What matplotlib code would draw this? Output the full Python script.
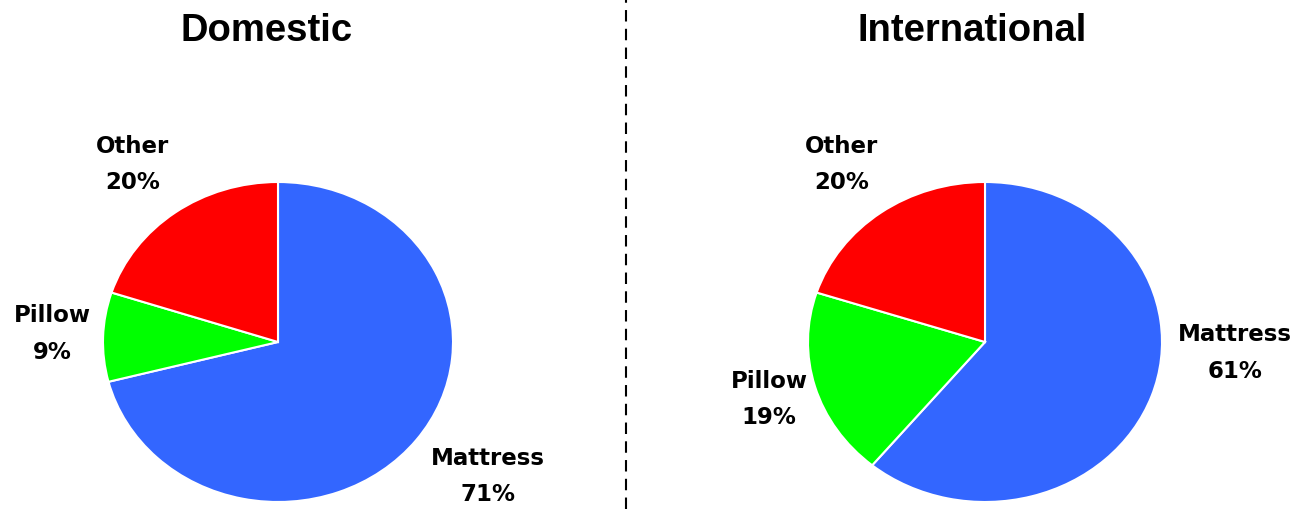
import matplotlib.pyplot as plt
from matplotlib.lines import Line2D

# data
titles = ['Domestic', 'International']
categories = ['Mattress', 'Pillow', 'Other']
domestic = [71, 9, 20]
international = [61, 19, 20]
colors = ['#3366FF', '#00FF00', '#FF0000']

# label positions in pie (data) units, per panel
label_pos = [
    [(1.20, -0.84), (-1.29, 0.05), (-0.83, 1.11)],
    [(1.41, -0.07), (-1.22, -0.36), (-0.81, 1.11)],
]

W, H = 1299, 509
fig = plt.figure(figsize=(W / 100, H / 100), dpi=100)

# pie boxes in pixels: (center x, center y from top, rx, ry)
boxes = [(278, 342, 175, 160), (985, 342, 177, 160)]
title_x = [267, 972]

for k, vals in enumerate([domestic, international]):
    cx, cy, rx, ry = boxes[k]
    ax = fig.add_axes([(cx - rx) / W, (H - cy - ry) / H, 2 * rx / W, 2 * ry / H])
    ax.pie(vals, colors=colors, startangle=90, counterclock=False,
           wedgeprops=dict(edgecolor='white', linewidth=1.5))
    ax.set_aspect('auto')
    ax.set_xlim(-1, 1)
    ax.set_ylim(-1, 1)
    for (x, y), name, v in zip(label_pos[k], categories, vals):
        ax.text(x, y, '%s\n%d%%' % (name, v), ha='center', va='center',
                fontsize=16.5, fontweight='bold', family='DejaVu Sans',
                linespacing=1.75, clip_on=False)
    fig.text(title_x[k] / W, 1 - 31 / H, titles[k], ha='center', va='center',
             fontsize=27.5, fontweight='bold', family='Liberation Sans')

fig.add_artist(Line2D([626 / W, 626 / W], [0, 1], transform=fig.transFigure,
                      color='black', lw=1.5, linestyle=(0, (5.5, 3.5))))

fig.savefig('out.png', dpi=100)
